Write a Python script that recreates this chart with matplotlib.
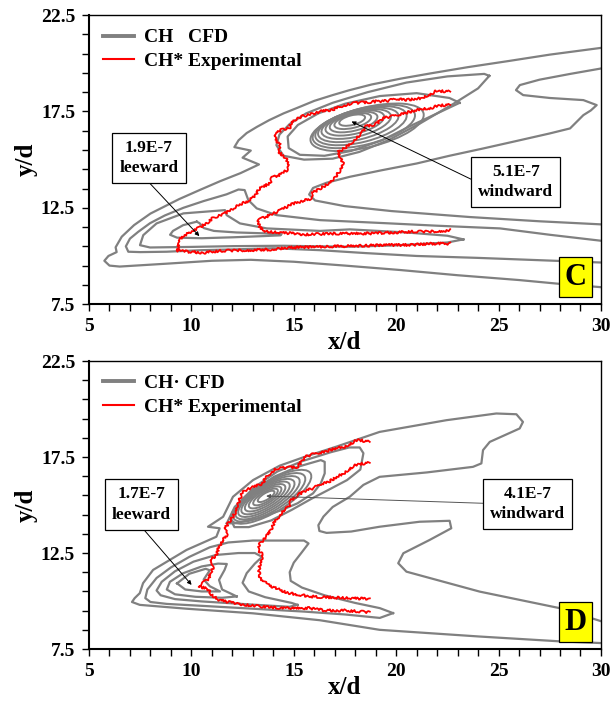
import matplotlib
matplotlib.use("Agg")
import matplotlib.pyplot as plt
from matplotlib.patches import Ellipse
from matplotlib.lines import Line2D

SERIF = ["Liberation Serif", "DejaVu Serif"]
GRAY = "#808080"
RED = "#ff0000"

# ---------------- Case C : CFD CH contours (x/d, y/d) ----------------
c_outer = [(30, 20.8), (27.5, 20.45), (25.5, 20.12), (23.5, 19.8), (21.7, 19.48), (20.2, 19.2),
           (18.8, 18.9), (17.7, 18.6), (16.9, 18.35), (16.0, 18.05), (15.2, 17.7), (14.5, 17.4),
           (13.8, 17.05), (13.2, 16.7), (12.7, 16.38), (12.3, 16.0), (12.1, 15.65), (12.9, 15.47),
           (12.5, 15.1), (13.3, 14.75), (12.4, 14.3), (11.4, 13.88), (10.4, 13.42), (9.4, 12.95),
           (8.0, 12.2), (7.2, 11.6), (6.6, 11.0), (6.3, 10.45), (6.35, 10.2), (5.95, 10.0),
           (5.75, 9.75), (6.0, 9.5), (6.5, 9.45), (8.8, 9.6), (11.0, 9.75), (12.9, 9.8), (15.0, 9.7),
           (17.5, 9.5), (20.2, 9.27), (23.0, 9.0), (26.0, 8.75), (28.0, 8.55), (30, 8.38)]
c_lobe = [(30, 19.73), (28.5, 19.45), (27.0, 19.15), (26.04, 18.87), (25.85, 18.61), (26.2, 18.35),
          (27.5, 18.2), (29.14, 18.09), (29.79, 17.83), (29.5, 17.55), (29.14, 17.31), (28.49, 16.62),
          (27.5, 16.36), (25.8, 15.95), (24.25, 15.58), (22.6, 15.2), (21.0, 14.8), (19.3, 14.45),
          (17.74, 14.11), (16.6, 13.8), (15.94, 13.53), (15.75, 13.19), (16.04, 12.88), (17.47, 12.59),
          (19.77, 12.33), (23.6, 12.02), (27.0, 11.8), (30, 11.64)]
c_fan = [(30, 10.79), (27.5, 11.1), (25.07, 11.43), (22.0, 11.57), (19.5, 11.7), (16.28, 11.86),
         (14.16, 12.12), (13.19, 12.47), (12.78, 12.9), (12.6, 13.42), (12.3, 13.45), (11.72, 13.2),
         (10.6, 12.85), (9.61, 12.5), (8.7, 12.1), (7.98, 11.7), (7.4, 11.25), (7.0, 10.9),
         (6.8, 10.5), (6.92, 10.22), (7.5, 10.2), (8.79, 10.22), (10.5, 10.3), (12.05, 10.34),
         (14.0, 10.4), (16.28, 10.3), (18.5, 10.15), (21.0, 10.0), (24.0, 9.9), (27.0, 9.78), (30, 9.66)]
c_lee_long = [(23.28, 10.86), (22.5, 11.05), (20.5, 11.22), (17.74, 11.38), (16.28, 11.3),
              (13.68, 11.43), (12.37, 11.69), (11.72, 12.12), (11.64, 12.38), (11.3, 12.35),
              (9.61, 12.21), (8.3, 11.69), (7.65, 11.08), (7.49, 10.56), (7.98, 10.44), (10.0, 10.47),
              (12.05, 10.51), (14.5, 10.53), (16.28, 10.5), (17.74, 10.48), (20.0, 10.55),
              (22.5, 10.7), (23.28, 10.86)]
c_lee_core = [(10.26, 11.78), (9.6, 11.6), (9.1, 11.3), (8.96, 11.1), (9.3, 10.95), (10.5, 10.92),
              (12.05, 10.97), (13.5, 11.03), (14.35, 11.07), (14.4, 11.13), (13.7, 11.17),
              (12.2, 11.22), (11.1, 11.3), (10.6, 11.45), (10.4, 11.7), (10.26, 11.78)]
c_wind_big = [(24.55, 19.35), (24.3, 19.45), (22.5, 19.32), (20.5, 19.0), (18.6, 18.5), (16.9, 17.95),
              (15.6, 17.4), (14.8, 16.85), (14.3, 16.3), (14.15, 15.75), (14.5, 15.2), (15.5, 15.0),
              (16.9, 15.05), (18.2, 15.4), (19.6, 16.0), (21.2, 16.9), (22.8, 17.9), (24.0, 18.7),
              (24.55, 19.35)]
c_wind_mid = [(23.1, 17.95), (22.6, 18.2), (21.0, 18.45), (19.2, 18.3), (17.5, 17.9), (16.2, 17.4),
              (15.2, 16.8), (14.7, 16.2), (14.75, 15.6), (15.3, 15.25), (16.5, 15.2), (17.8, 15.45),
              (19.3, 16.0), (20.8, 16.8), (22.2, 17.5), (23.1, 17.95)]
# nested loops round the windward maximum: centre x, centre y, width, height (x/d units)
c_ring_x = [17.85, 17.88, 17.92, 17.98, 18.05, 18.15, 18.28, 18.42, 18.58]
c_ring_y = [17.05, 17.0, 16.95, 16.9, 16.85, 16.8, 16.76, 16.72, 16.68]
c_ring_w = [1.3, 1.85, 2.4, 2.95, 3.5, 4.05, 4.6, 5.15, 5.7]
c_ring_h = [0.5, 0.7, 0.9, 1.1, 1.3, 1.5, 1.7, 1.88, 2.05]
c_ring_angle = 15

# ---------------- Case C : CH* experimental edges ----------------
c_exp_outer = [(22.64, 18.53), (21.97, 18.57), (21.68, 18.4), (21.2, 18.19), (20.91, 18.16),
               (20.53, 18.1), (19.96, 18.16), (19.58, 18.05), (19.0, 18.02), (18.62, 17.98),
               (17.85, 17.93), (17.28, 17.76), (16.9, 17.59), (16.32, 17.5), (15.75, 17.33),
               (15.37, 17.24), (14.89, 16.98), (14.79, 16.64), (14.41, 16.55), (14.03, 16.29),
               (14.12, 16.03), (14.32, 15.78), (14.26, 15.43), (14.6, 15.09), (14.79, 14.74),
               (14.7, 14.48), (14.32, 14.22), (13.93, 14.05), (13.84, 13.79), (13.26, 13.45),
               (13.17, 13.19), (12.78, 12.84), (12.31, 12.67), (12.02, 12.41), (11.54, 12.16),
               (11.06, 11.98), (10.78, 11.72), (10.39, 11.47), (10.01, 11.29), (9.63, 11.03),
               (9.4, 10.86), (9.4, 10.6), (9.28, 10.29), (9.82, 10.22), (10.59, 10.17), (11.35, 10.26),
               (12.5, 10.29), (14.03, 10.34), (14.79, 10.43), (15.94, 10.47), (17.85, 10.52),
               (19.77, 10.57), (20.72, 10.57), (21.68, 10.64), (22.64, 10.64)]
c_exp_inner = [(22.64, 17.84), (22.06, 17.81), (21.68, 17.67), (21.2, 17.64), (20.72, 17.5),
               (20.15, 17.33), (19.77, 17.24), (19.38, 17.16), (19.0, 16.84), (18.52, 16.72),
               (18.33, 16.38), (17.95, 16.03), (17.76, 15.78), (17.47, 15.6), (17.18, 15.4),
               (17.28, 15.09), (17.43, 14.74), (17.24, 14.4), (16.99, 14.05), (16.61, 13.71),
               (16.23, 13.45), (15.9, 13.28), (15.85, 12.98), (15.37, 12.84), (14.89, 12.67),
               (14.41, 12.41), (13.93, 12.16), (13.45, 11.95), (13.22, 11.81), (13.36, 11.47),
               (13.65, 11.26), (14.41, 11.21), (15.56, 11.12), (16.9, 11.16), (18.81, 11.17),
               (20.72, 11.26), (21.68, 11.26), (22.64, 11.33)]

# ---------------- Case D : CFD CH contours ----------------
d_outer = [(30, 7.81), (27.98, 7.9), (24.08, 8.15), (19.19, 8.5), (16.27, 9.0), (13.01, 9.36),
           (9.76, 9.6), (7.48, 9.8), (7.1, 9.95), (7.23, 10.15), (7.48, 10.41), (7.64, 10.93),
           (8.13, 11.62), (9.76, 12.66), (11.22, 13.35), (11.38, 13.79), (10.81, 13.87),
           (11.55, 14.39), (12.03, 15.43), (13.01, 16.3), (14.31, 17.05), (15.5, 17.5), (17.1, 18.05),
           (19.19, 18.81), (22.45, 19.42), (24.89, 19.77), (25.87, 19.73), (26.19, 19.33),
           (26.03, 18.99), (24.57, 18.29), (24.24, 17.86), (24.16, 17.17), (23.75, 16.99),
           (21.5, 16.7), (19.19, 16.47), (18.4, 16.05), (17.73, 15.43), (16.9, 14.9), (16.45, 14.4),
           (16.2, 13.95), (16.25, 13.65), (16.6, 13.55), (17.8, 13.62), (19.19, 13.87),
           (21.14, 14.13), (22.61, 14.18), (22.69, 13.79), (21.63, 13.18), (20.35, 12.49),
           (20.1, 11.97), (20.5, 11.53), (24.08, 10.49), (27.98, 9.63), (30, 8.95)]
d_fan = [(19.85, 9.37), (19.2, 9.12), (17.5, 9.3), (15.5, 9.45), (13.0, 9.6), (10.5, 9.75),
         (8.8, 9.85), (8.0, 9.95), (7.75, 10.15), (7.85, 10.6), (8.3, 11.2), (9.0, 11.75),
         (9.9, 12.3), (10.9, 12.8), (11.8, 13.05), (13.0, 13.15), (14.5, 13.15), (15.5, 13.15),
         (15.72, 13.0), (15.4, 12.55), (15.0, 12.0), (14.8, 11.5), (14.85, 11.05), (15.4, 10.7),
         (16.5, 10.3), (18.0, 9.9), (19.2, 9.63), (19.85, 9.37)]
d_lee_mid = [(15.18, 9.8), (14.79, 9.7), (13.5, 9.78), (12.0, 9.88), (10.5, 9.98), (9.2, 10.1),
             (8.5, 10.3), (8.3, 10.55), (8.55, 11.0), (9.2, 11.55), (10.1, 12.05), (11.2, 12.4),
             (12.3, 12.5), (13.1, 12.5), (13.45, 12.3), (13.1, 11.95), (12.7, 11.45), (12.5, 10.95),
             (12.8, 10.5), (13.6, 10.2), (14.9, 9.9), (15.18, 9.8)]
d_lee_in = [(12.21, 10.24), (11.5, 10.17), (10.2, 10.22), (9.2, 10.35), (8.8, 10.6), (8.95, 11.0),
            (9.6, 11.45), (10.5, 11.8), (11.3, 11.95), (11.73, 11.93), (11.62, 11.62),
            (11.35, 11.1), (11.5, 10.6), (12.0, 10.35), (12.21, 10.24)]
d_lee_core = [(9.3, 10.92), (9.9, 11.42), (10.7, 11.68), (10.9, 11.6), (10.6, 11.12), (10.9, 10.77),
              (11.4, 10.5), (10.5, 10.5), (9.7, 10.6), (9.3, 10.92)]
d_wind_big = [(11.9, 14.3), (12.3, 15.1), (13.1, 15.95), (14.2, 16.75), (15.45, 17.3), (16.8, 17.75),
              (17.7, 18.0), (18.22, 18.0), (18.4, 17.7), (18.25, 16.85), (17.6, 16.3), (16.8, 15.85),
              (15.9, 15.35), (14.9, 14.75), (13.9, 14.2), (12.8, 13.85), (12.1, 13.85), (11.9, 14.3)]
d_wind_mid = [(11.73, 14.05), (12.12, 14.91), (12.88, 15.61), (14.03, 16.47), (15.18, 16.99),
              (16.32, 17.34), (16.51, 17.25), (16.51, 16.65), (16.32, 16.13), (15.94, 15.61),
              (15.18, 15.09), (14.41, 14.74), (13.26, 14.31), (12.12, 14.05), (11.73, 14.05)]
d_ring_x = [13.65, 13.62, 13.6, 13.6, 13.62, 13.66, 13.72, 13.8, 13.9]
d_ring_y = [15.45, 15.42, 15.4, 15.38, 15.37, 15.37, 15.38, 15.4, 15.43]
d_ring_w = [0.95, 1.4, 1.85, 2.3, 2.75, 3.2, 3.65, 4.1, 4.55]
d_ring_h = [0.34, 0.5, 0.66, 0.82, 0.98, 1.13, 1.28, 1.43, 1.58]
d_ring_angle = 33

# ---------------- Case D : CH* experimental edges ----------------
d_exp_outer = [(18.71, 18.29), (18.42, 18.34), (18.14, 18.41), (17.47, 18.03), (17.09, 17.99),
               (16.51, 17.77), (15.94, 17.65), (15.56, 17.51), (15.37, 17.25), (15.18, 16.99),
               (14.7, 16.94), (14.12, 16.9), (13.84, 16.65), (13.61, 16.39), (13.49, 16.13),
               (13.07, 15.95), (12.69, 15.81), (12.46, 15.61), (12.35, 15.26), (12.21, 14.91),
               (12.12, 14.57), (11.92, 14.22), (11.64, 13.79), (11.73, 13.44), (11.54, 13.18),
               (11.35, 12.83), (11.25, 12.4), (10.97, 12.18), (11.06, 11.79), (10.97, 11.45),
               (10.78, 11.1), (10.43, 10.84), (10.39, 10.72), (10.78, 10.67), (10.97, 10.32),
               (11.35, 10.06), (11.92, 9.92), (12.69, 9.8), (13.45, 9.71), (14.41, 9.63),
               (15.75, 9.63), (16.52, 9.51), (17.47, 9.51), (18.71, 9.41)]
d_exp_inner = [(18.71, 17.2), (18.14, 17.13), (17.85, 16.99), (17.47, 16.68), (17.09, 16.47),
               (16.71, 16.21), (16.32, 16.09), (15.94, 15.87), (15.56, 15.74), (15.18, 15.52),
               (14.89, 15.26), (14.76, 14.91), (14.51, 14.74), (14.26, 14.39), (14.03, 14.05),
               (13.84, 13.61), (13.65, 13.35), (13.36, 13.01), (13.26, 12.66), (13.49, 12.4),
               (13.36, 12.0), (13.3, 11.62), (13.36, 11.19), (13.74, 10.84), (14.22, 10.62),
               (14.79, 10.41), (15.75, 10.24), (16.9, 10.18), (17.85, 10.15), (18.71, 10.1)]

# annotation values: (text, box centre, arrow start, arrow tip)
c_notes = [("1.9E-7\nleeward", (7.93, 15.09), (7.91, 13.84), (10.39, 11.03)),
           ("5.1E-7\nwindward", (25.85, 13.84), (23.82, 13.9), (17.82, 16.98))]
d_notes = [("1.7E-7\nleeward", (7.56, 15.03), (7.62, 13.79), (10.01, 10.84)),
           ("4.1E-7\nwindward", (26.4, 15.05), (24.3, 15.09), (13.65, 15.47))]


def draw_line(ax, pts, **kw):
    xs = [p[0] for p in pts]
    ys = [p[1] for p in pts]
    return ax.plot(xs, ys, **kw)[0]


def draw_panel(ax, contours, rings, exp_edges, notes, tag, cfd_label, arrow_colors):
    for pts in contours:
        draw_line(ax, pts, color=GRAY, lw=1.6, solid_joinstyle="round", zorder=2)
    rx, ry, rw, rh, ang = rings
    for x, y, w, h in zip(rx, ry, rw, rh):
        ax.add_patch(Ellipse((x, y), w, h, angle=ang, fill=False, ec=GRAY, lw=1.4, zorder=2))
    for pts in exp_edges:
        ln = draw_line(ax, pts, color=RED, lw=1.3, zorder=3)
        ln.set_sketch_params(scale=1.2, length=3.0, randomness=4.0)

    for (txt, box, start, tip), col in zip(notes, arrow_colors):
        ax.annotate("", xy=tip, xytext=start,
                    arrowprops=dict(arrowstyle="-|>", lw=0.7, color=col,
                                    mutation_scale=6, shrinkA=0, shrinkB=0), zorder=4)
        ax.text(box[0], box[1], txt, ha="center", va="center", fontsize=12.5,
                fontweight="bold", family=SERIF, linespacing=1.35, zorder=5,
                bbox=dict(boxstyle="square,pad=0.4", fc="white", ec="black", lw=0.9))

    ax.text(28.75, 8.9, tag, ha="center", va="center", fontsize=22, fontweight="bold",
            family=SERIF, zorder=5,
            bbox=dict(boxstyle="square,pad=0.18", fc="#ffff00", ec="black", lw=0.9))

    handles = [Line2D([], [], color=GRAY, lw=2.8), Line2D([], [], color=RED, lw=1.5)]
    ax.legend(handles, [cfd_label, "CH* Experimental"], loc="upper left",
              bbox_to_anchor=(0.0, 1.0), frameon=False, handlelength=1.6,
              handletextpad=0.55, labelspacing=0.3, borderaxespad=0.3,
              prop=dict(family=SERIF, weight="bold", size=14))

    ax.set_xlim(5, 30)
    ax.set_ylim(7.5, 22.5)
    ax.set_xticks([5, 10, 15, 20, 25, 30])
    ax.set_yticks([7.5, 12.5, 17.5, 22.5])
    ax.set_xticks(range(5, 31), minor=True)
    ax.set_yticks([8.5, 9.5, 10.5, 11.5, 13.5, 14.5, 15.5, 16.5, 18.5, 19.5, 20.5, 21.5],
                  minor=True)
    ax.tick_params(which="both", direction="out", width=1.0, length=5, pad=5)
    for lab in ax.get_xticklabels() + ax.get_yticklabels():
        lab.set_family(SERIF)
        lab.set_fontweight("bold")
        lab.set_fontsize(14)
    ax.set_xlabel("x/d", family=SERIF, fontweight="bold", fontsize=18, labelpad=-3)
    ax.set_ylabel("y/d", family=SERIF, fontweight="bold", fontsize=18, labelpad=2)
    for side in ("left", "bottom"):
        ax.spines[side].set_linewidth(1.5)
    for side in ("top", "right"):
        ax.spines[side].set_linewidth(1.0)


fig = plt.figure(figsize=(6.15, 7.04), dpi=100)
ax_c = fig.add_axes([0.1447, 0.568, 0.8325, 0.4105])
ax_d = fig.add_axes([0.1447, 0.0781, 0.8325, 0.409])

draw_panel(ax_c,
           [c_outer, c_lobe, c_fan, c_lee_long, c_lee_core, c_wind_big, c_wind_mid],
           (c_ring_x, c_ring_y, c_ring_w, c_ring_h, c_ring_angle),
           [c_exp_outer, c_exp_inner], c_notes, "C", "CH   CFD", ["black", "black"])
draw_panel(ax_d,
           [d_outer, d_fan, d_lee_mid, d_lee_in, d_lee_core, d_wind_big, d_wind_mid],
           (d_ring_x, d_ring_y, d_ring_w, d_ring_h, d_ring_angle),
           [d_exp_outer, d_exp_inner], d_notes, "D", "CH\u00b7 CFD", ["black", "#555555"])

fig.savefig("out.png", dpi=100)
